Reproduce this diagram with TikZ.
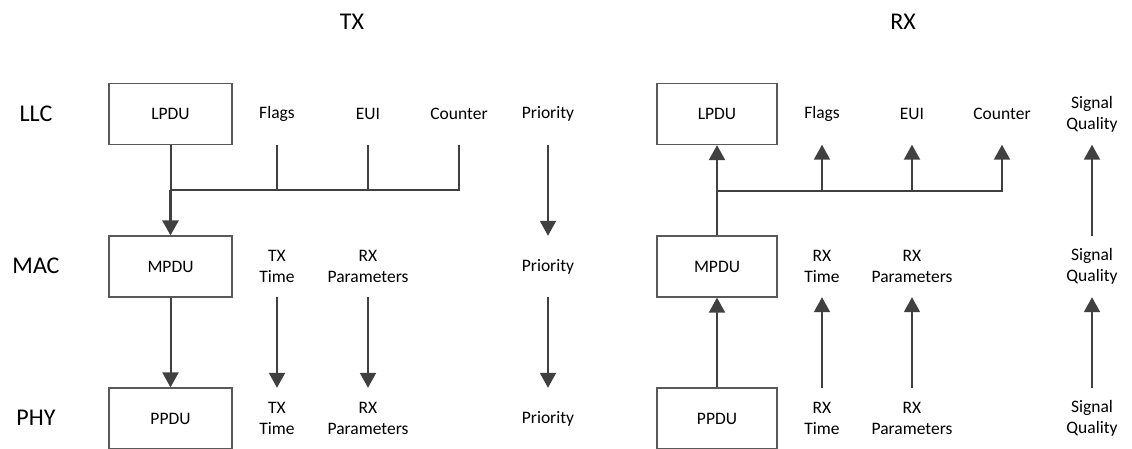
\documentclass[tikz,border=0pt]{standalone}
\usepackage{fontspec}
\setmainfont{Carlito}
\usetikzlibrary{arrows.meta}
\definecolor{wirec}{HTML}{404040}
\definecolor{boxc}{HTML}{595959}
\begin{document}
\begin{tikzpicture}[x=1pt,y=-1pt,
  big/.style={font=\fontsize{24}{28}\selectfont, text=black},
  lbl/.style={font=\fontsize{17.5}{21}\selectfont, align=center, minimum height=61pt, inner sep=0pt, text=black},
  pdubox/.style={lbl, draw=boxc, line width=1.2pt, minimum width=123pt},
  rpdubox/.style={pdubox, minimum width=120pt},
  wire/.style={draw=wirec, line width=2pt},
  trunk/.style={draw=wirec, line width=2.8pt},
  arr/.style={wire, -{Triangle[length=15pt,width=16pt]}},
  tarr/.style={trunk, -{Triangle[length=15pt,width=16pt]}}]
\useasboundingbox (0,0) rectangle (1132,448);
% titles
\node[big] (tx) at (352,22) {TX};
\node[big] (rx) at (903,22) {RX};
\node[big] (llc) at (36,114) {LLC};
\node[big] (mac) at (36,266) {MAC};
\node[big] (phy) at (36,418) {PHY};
% TX side
\node[pdubox] (tlpdu) at (170.5,114) {LPDU};
\node[pdubox] (tmpdu) at (170.5,266.5) {MPDU};
\node[pdubox] (tppdu) at (170.5,418.5) {PPDU};
\node[lbl] (tflags) at (277,114) {Flags};
\node[lbl] (teui) at (368,114) {EUI};
\node[lbl] (tcnt) at (459,114) {Counter};
\node[lbl] (tpr1) at (548,114) {Priority};
\node[lbl] (ttime1) at (277,266.5) {TX\\Time};
\node[lbl] (trxp1) at (368,266.5) {RX\\Parameters};
\node[lbl] (tpr2) at (548,266.5) {Priority};
\node[lbl] (ttime2) at (277,418.5) {TX\\Time};
\node[lbl] (trxp2) at (368,418.5) {RX\\Parameters};
\node[lbl] (tpr3) at (548,418.5) {Priority};
\coordinate (tbus) at (0,190);
\draw[wire] (tcnt.south) -- (tcnt.south |- tbus) -- (tlpdu.south |- tbus);
\draw[wire] (teui.south) -- (teui.south |- tbus);
\draw[wire] (tflags.south) -- (tflags.south |- tbus);
\draw[wire] (tlpdu.south) -- (tlpdu.south |- tbus);
\draw[tarr] (tlpdu.south |- tbus) -- (tmpdu.north);
\draw[arr] (tmpdu) -- (tppdu);
\draw[arr] (ttime1) -- (ttime2);
\draw[arr] (trxp1) -- (trxp2);
\draw[arr] (tpr1) -- (tpr2);
\draw[arr] (tpr2) -- (tpr3);
% RX side
\node[rpdubox] (rlpdu) at (717,114) {LPDU};
\node[rpdubox] (rmpdu) at (717,266.5) {MPDU};
\node[rpdubox] (rppdu) at (717,418.5) {PPDU};
\node[lbl] (rflags) at (822,114) {Flags};
\node[lbl] (reui) at (912,114) {EUI};
\node[lbl] (rcnt) at (1002,114) {Counter};
\node[lbl] (rsq1) at (1092,114) {Signal\\Quality};
\node[lbl] (rtime1) at (822,266.5) {RX\\Time};
\node[lbl] (rrxp1) at (912,266.5) {RX\\Parameters};
\node[lbl] (rsq2) at (1092,266.5) {Signal\\Quality};
\node[lbl] (rtime2) at (822,418.5) {RX\\Time};
\node[lbl] (rrxp2) at (912,418.5) {RX\\Parameters};
\node[lbl] (rsq3) at (1092,418.5) {Signal\\Quality};
\coordinate (rbus) at (0,191);
\draw[trunk] (rmpdu.north) -- (rlpdu.south |- rbus);
\draw[arr] (rlpdu.south |- rbus) -- (rlpdu.south);
\draw[arr] (rlpdu.south |- rbus) -| (rcnt.south);
\draw[arr] (rflags.south |- rbus) -- (rflags.south);
\draw[arr] (reui.south |- rbus) -- (reui.south);
\draw[arr] (rppdu) -- (rmpdu);
\draw[arr] (rtime2) -- (rtime1);
\draw[arr] (rrxp2) -- (rrxp1);
\draw[arr] (rsq3) -- (rsq2);
\draw[arr] (rsq2) -- (rsq1);
\end{tikzpicture}
\end{document}
